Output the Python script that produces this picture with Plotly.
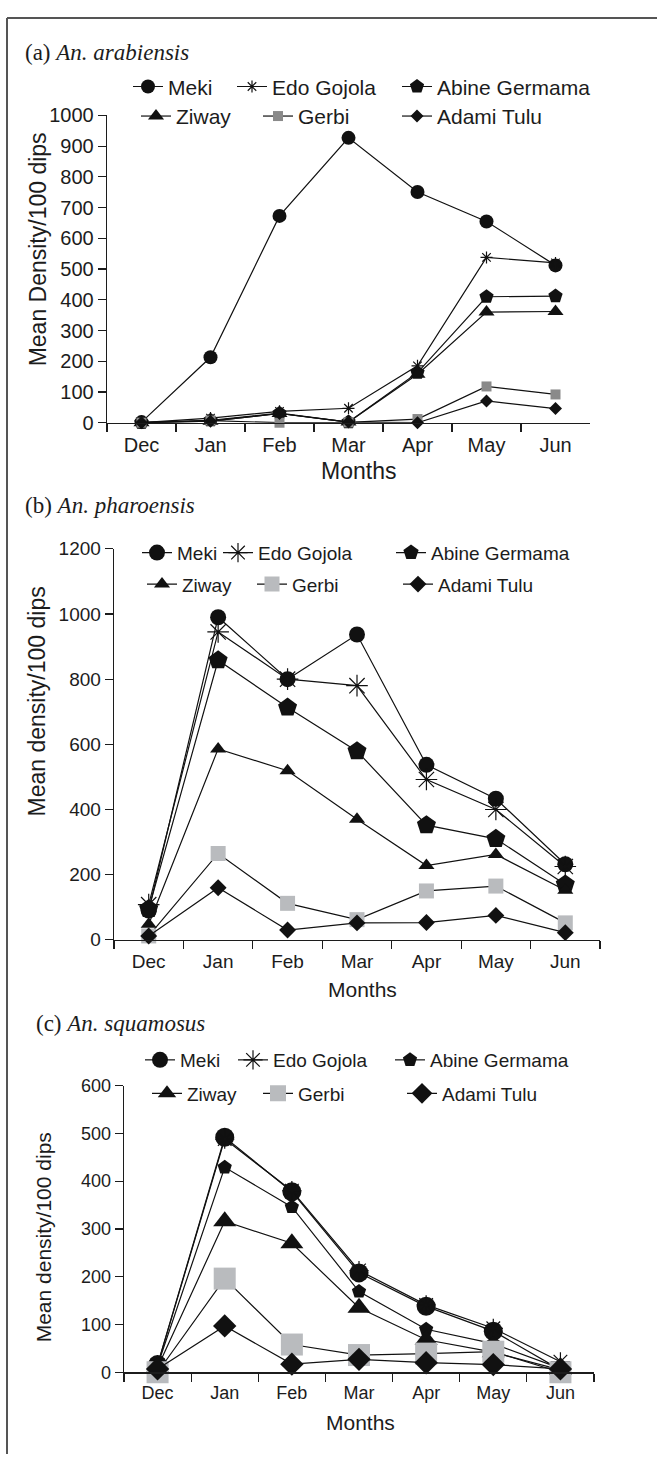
import plotly.graph_objects as go

W, H = 657, 1465

months = ["Dec", "Jan", "Feb", "Mar", "Apr", "May", "Jun"]
sites = ["Meki", "Edo Gojola", "Abine Germama", "Ziway", "Gerbi", "Adami Tulu"]

# (a) An. arabiensis
a_meki = [2, 213, 673, 927, 751, 655, 512]
a_edo = [0, 15, 37, 47, 185, 538, 520]
a_abine = [0, 8, 31, 2, 163, 410, 412]
a_ziway = [0, 5, 30, 2, 158, 360, 362]
a_gerbi = [0, 7, 0, 1, 12, 118, 92]
a_adami = [0, 5, 30, 2, 0, 71, 46]

# (b) An. pharoensis
b_meki = [90, 990, 800, 937, 537, 433, 232]
b_edo = [108, 945, 800, 780, 492, 400, 225]
b_abine = [95, 858, 713, 579, 352, 310, 170]
b_ziway = [48, 586, 519, 370, 228, 262, 152]
b_gerbi = [12, 265, 112, 62, 150, 165, 52]
b_adami = [12, 160, 30, 52, 53, 75, 22]

# (c) An. squamosus
c_meki = [16, 492, 378, 208, 138, 86, 5]
c_edo = [15, 488, 380, 213, 141, 92, 22]
c_abine = [14, 429, 346, 169, 90, 60, 8]
c_ziway = [10, 316, 270, 135, 68, 42, 5]
c_gerbi = [0, 196, 58, 36, 39, 43, 0]
c_adami = [7, 97, 17, 27, 20, 16, 7]

panel_titles = ["(a) <i>An. arabiensis</i>", "(b) <i>An. pharoensis</i>", "(c) <i>An. squamosus</i>"]
y_titles = ["Mean Density/100 dips", "Mean density/100 dips", "Mean density/100 dips"]
x_title = "Months"
y_ranges = [[0, 1000], [0, 1200], [0, 600]]
y_dticks = [100, 200, 100]

data = [
    [a_meki, a_edo, a_abine, a_ziway, a_gerbi, a_adami],
    [b_meki, b_edo, b_abine, b_ziway, b_gerbi, b_adami],
    [c_meki, c_edo, c_abine, c_ziway, c_gerbi, c_adami],
]

FONT = "Liberation Sans, Arial, sans-serif"
SERIF = "Liberation Serif, Times New Roman, serif"
INK = "#1c1c1c"

def px(x):
    return x / W

def py(y):
    return 1 - y / H

# layout geometry in pixels
panels = [
    dict(x0=107, x1=590, ytop=106, ybot=418, tick=20, leg=21, ytf=23, xtf=23,
         title=(23, 42), ytitle=(38, 242), xtitle=(358, 467),
         rows=(77, 107), lx=[128, 232, 397, 136, 258, 397],
         sizes=[14, 10, 15, 14, 10, 10], gerbi="#8a8a8a"),
    dict(x0=114, x1=600, ytop=546, ybot=943, tick=19, leg=19, ytf=23, xtf=21,
         title=(23, 502), ytitle=(37, 701), xtitle=(362, 993),
         rows=(550, 582), lx=[137, 218, 391, 142, 252, 398],
         sizes=[16, 18, 20, 14, 15, 13], gerbi="#b9bbbe"),
    dict(x0=124, x1=594, ytop=1091, ybot=1382, tick=18, leg=19, ytf=21, xtf=21,
         title=(34, 1028), ytitle=(43, 1245), xtitle=(360, 1433),
         rows=(1065, 1099), lx=[140, 233, 390, 147, 258, 402],
         sizes=[19, 16, 15, 20, 22, 18], gerbi="#b9bbbe"),
]

symbols = ["circle", "asterisk-open", "pentagon", "triangle-up", "square", "diamond"]

fig = go.Figure()
layout = dict(
    width=W, height=H, autosize=False,
    margin=dict(l=0, r=0, t=0, b=0),
    paper_bgcolor="white", plot_bgcolor="white",
    font=dict(family=FONT, color=INK),
    annotations=[], shapes=[],
)

leg_idx = 0
for p, cfg in enumerate(panels):
    xa = "xaxis" if p == 0 else f"xaxis{p+1}"
    ya = "yaxis" if p == 0 else f"yaxis{p+1}"
    xr = "x" if p == 0 else f"x{p+1}"
    yr = "y" if p == 0 else f"y{p+1}"
    layout[xa] = dict(
        domain=[px(cfg["x0"]), px(cfg["x1"])], anchor=yr,
        type="category", categoryorder="array", categoryarray=months,
        range=[-0.5, 6.5], tickson="boundaries",
        ticks="outside", ticklen=8, tickwidth=1.2, tickcolor=INK,
        ticklabelstandoff=4,
        showline=True, linecolor=INK, linewidth=1.3,
        showgrid=False, zeroline=False,
        tickfont=dict(size=cfg["tick"], family=FONT, color=INK),
        fixedrange=True,
    )
    layout[ya] = dict(
        domain=[py(cfg["ybot"]), py(cfg["ytop"])], anchor=xr,
        range=y_ranges[p], dtick=y_dticks[p], tick0=0,
        ticks="outside", ticklen=8, tickwidth=1.2, tickcolor=INK,
        showline=True, linecolor=INK, linewidth=1.3,
        showgrid=False, zeroline=False,
        tickfont=dict(size=cfg["tick"], family=FONT, color=INK),
        fixedrange=True,
    )
    for i, site in enumerate(sites):
        leg_idx += 1
        lname = "legend" if leg_idx == 1 else f"legend{leg_idx}"
        color = cfg["gerbi"] if site == "Gerbi" else "#111111"
        sym = symbols[i]
        marker = dict(symbol=sym, size=cfg["sizes"][i], color=color,
                      line=dict(color="#111111" if sym == "asterisk-open" else color,
                                width=1.2 if sym == "asterisk-open" else 0))
        fig.add_trace(go.Scatter(
            x=months, y=data[p][i], name=site, mode="lines+markers",
            line=dict(color="#111111", width=1.2),
            marker=marker, xaxis=xr, yaxis=yr,
            legend=lname, showlegend=True, cliponaxis=False,
        ))
        row = cfg["rows"][0] if i < 3 else cfg["rows"][1]
        layout[lname] = dict(
            x=px(cfg["lx"][i]), y=py(row), xanchor="left", yanchor="middle",
            orientation="v", bgcolor="rgba(0,0,0,0)", borderwidth=0,
            font=dict(size=cfg["leg"], family=FONT, color=INK),
            itemclick=False, itemdoubleclick=False,
        )
    # panel title
    layout["annotations"].append(dict(
        text=panel_titles[p], x=px(cfg["title"][0]), y=py(cfg["title"][1]),
        xref="paper", yref="paper", xanchor="left", yanchor="middle",
        showarrow=False, font=dict(family=SERIF, size=23, color=INK),
    ))
    # y-axis title
    layout["annotations"].append(dict(
        text=y_titles[p], x=px(cfg["ytitle"][0]), y=py(cfg["ytitle"][1]),
        xref="paper", yref="paper", xanchor="center", yanchor="middle",
        textangle=-90, showarrow=False,
        font=dict(family=FONT, size=cfg["ytf"], color=INK),
    ))
    # x-axis title
    layout["annotations"].append(dict(
        text=x_title, x=px(cfg["xtitle"][0]), y=py(cfg["xtitle"][1]),
        xref="paper", yref="paper", xanchor="center", yanchor="middle",
        showarrow=False, font=dict(family=FONT, size=cfg["xtf"], color=INK),
    ))

# outer frame (top and left edges)
layout["shapes"] += [
    dict(type="line", xref="paper", yref="paper", x0=px(7), x1=1.0, y0=py(7), y1=py(7),
         line=dict(color="#555555", width=2)),
    dict(type="line", xref="paper", yref="paper", x0=px(7), x1=px(7), y0=py(7), y1=0,
         line=dict(color="#555555", width=2)),
]

fig.update_layout(**layout)
fig.write_html(
    "out.html",
    config={"displayModeBar": False, "staticPlot": True},
    post_script="document.body.style.margin='0';document.documentElement.style.overflow='hidden';",
)
